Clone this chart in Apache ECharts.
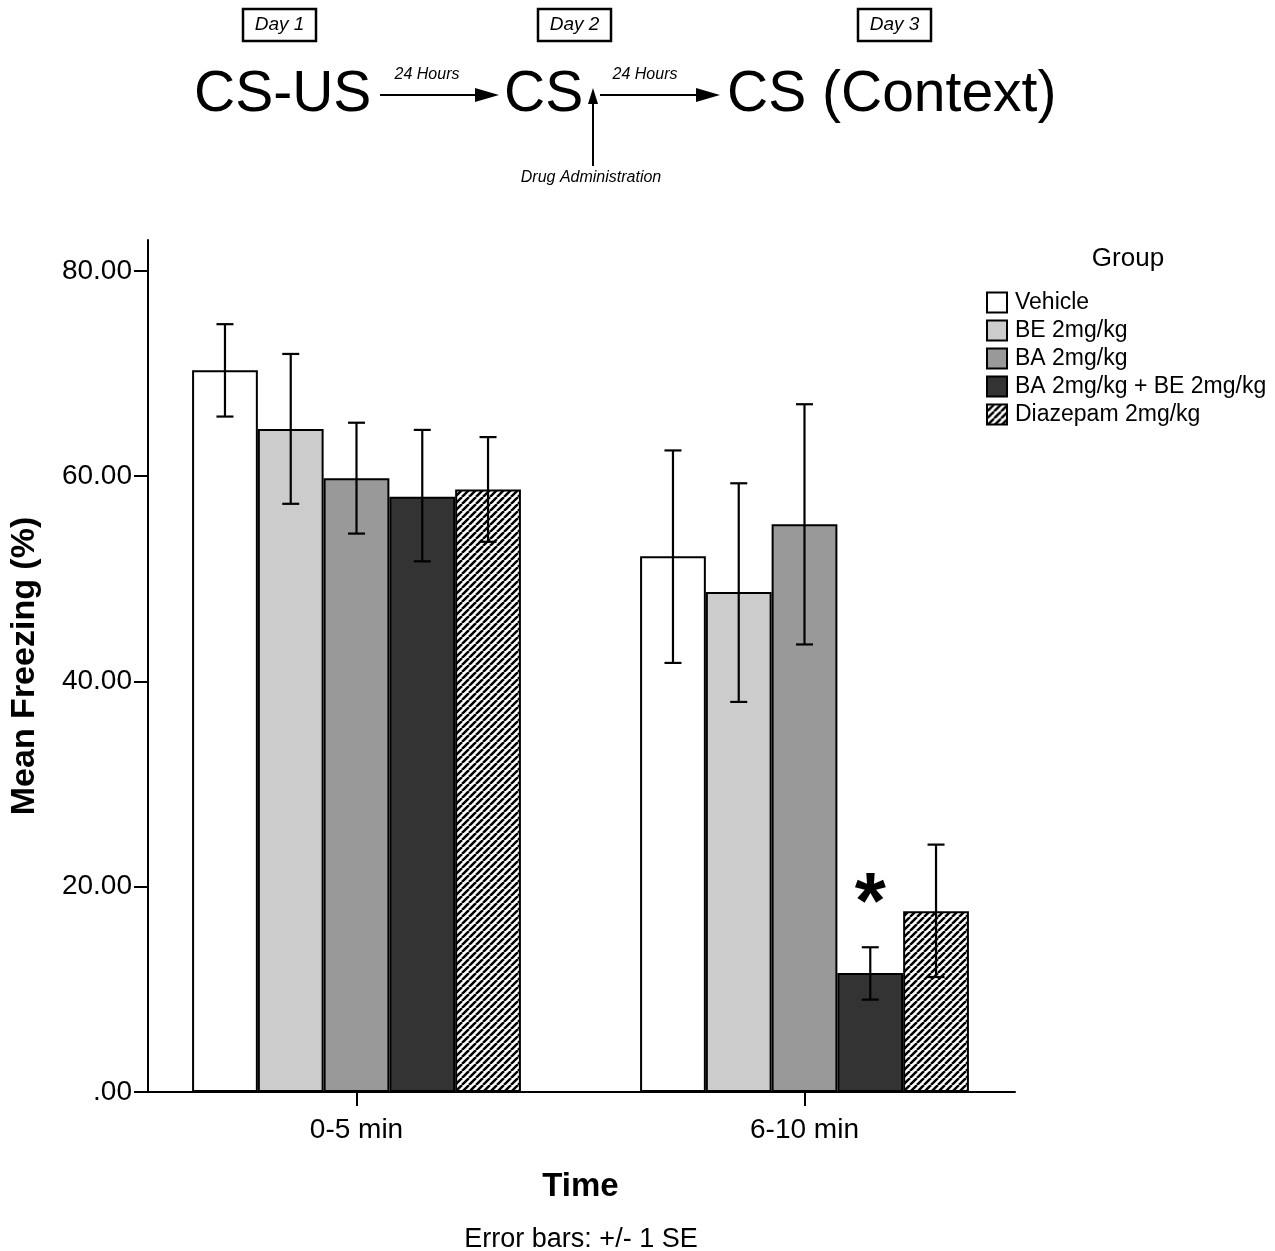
<!DOCTYPE html>
<html><head><meta charset="utf-8">
<script src="https://cdn.jsdelivr.net/npm/echarts@6/dist/echarts.min.js"></script>
<style>html,body{margin:0;padding:0;background:#fff}#c{width:1275px;height:1251px}</style>
</head><body><div id="c"></div>
<script>
// ---- data ----
const categories = ['0-5 min', '6-10 min'];
const groupNames = ['Vehicle', 'BE 2mg/kg', 'BA 2mg/kg', 'BA 2mg/kg + BE 2mg/kg', 'Diazepam 2mg/kg'];
const meanVehicle = [70.3, 52.2];
const meanBE      = [64.6, 48.7];
const meanBA      = [59.8, 55.3];
const meanBABE    = [58.0, 11.6];
const meanDiaz    = [58.7, 17.6];
// error bar [lower, upper] per category (+/- 1 SE)
const errVehicle = [[65.8, 74.8], [41.8, 62.5]];
const errBE      = [[57.3, 71.9], [38.0, 59.3]];
const errBA      = [[54.4, 65.2], [43.6, 67.0]];
const errBABE    = [[51.7, 64.5], [9.0, 14.1]];
const errDiaz    = [[53.6, 63.8], [11.2, 24.1]];
const yTicks = [0, 20, 40, 60, 80];

// ---- build ----
const FONT = "'Liberation Sans', Arial, sans-serif";
function hatch() {
  const s = 7, c = document.createElement('canvas');
  c.width = s; c.height = s;
  const g = c.getContext('2d');
  g.fillStyle = '#fff'; g.fillRect(0, 0, s, s);
  g.strokeStyle = '#000'; g.lineWidth = 2.5;
  g.beginPath();
  for (const k of [-s, 0, s]) { g.moveTo(k, s); g.lineTo(k + s, 0); }
  g.stroke();
  return c;
}
const means = [meanVehicle, meanBE, meanBA, meanBABE, meanDiaz];
const errs = [errVehicle, errBE, errBA, errBABE, errDiaz];
const fills = ['#ffffff', '#cccccc', '#999999', '#333333', { image: hatch(), repeat: 'repeat' }];
const GAP = 0.266;

const barSeries = groupNames.map((name, gi) => ({
  type: 'bar', name, xAxisIndex: 0, yAxisIndex: 0,
  barGap: '0%', barCategoryGap: (GAP * 100) + '%',
  itemStyle: { color: fills[gi], borderColor: '#000', borderWidth: 2 },
  data: means[gi].map((v, ci) => {
    if (gi === 3 && ci === 1) {
      return { value: v, label: { show: true, position: 'top', distance: 27, formatter: '*',
        fontSize: 80, fontWeight: 'bold', color: '#000', fontFamily: FONT } };
    }
    return v;
  })
}));

const errData = [];
errs.forEach((e, gi) => e.forEach((pair, ci) => errData.push([ci, pair[0], pair[1], gi])));

const errSeries = {
  type: 'custom', name: 'err', xAxisIndex: 0, yAxisIndex: 0, z: 5,
  data: errData,
  renderItem(params, api) {
    const ci = api.value(0), lo = api.value(1), hi = api.value(2), gi = api.value(3);
    const band = api.size([1, 0])[0];
    const w = band * (1 - GAP) / 5;
    const x = api.coord([ci, 0])[0] + (gi - 2) * w;
    const yl = api.coord([ci, lo])[1], yh = api.coord([ci, hi])[1];
    const cap = 8.5;
    const st = { stroke: '#000', lineWidth: 2.2 };
    return { type: 'group', children: [
      { type: 'line', shape: { x1: x, y1: yl, x2: x, y2: yh }, style: st },
      { type: 'line', shape: { x1: x - cap, y1: yl, x2: x + cap, y2: yl }, style: st },
      { type: 'line', shape: { x1: x - cap, y1: yh, x2: x + cap, y2: yh }, style: st }
    ]};
  }
};

function arrowH(x1, x2, y) {
  return [
    { type: 'line', shape: { x1, y1: y, x2: x2 - 18, y2: y }, style: { stroke: '#000', lineWidth: 2 } },
    { type: 'polygon', shape: { points: [[x2 - 24, y - 7], [x2, y], [x2 - 24, y + 7]] }, style: { fill: '#000' } }
  ];
}
function dayBox(x, label) {
  return [
    { type: 'rect', shape: { x, y: 9, width: 73, height: 32 }, style: { fill: '#fff', stroke: '#000', lineWidth: 2.5 } },
    { type: 'text', x: x + 36.5, y: 25, style: { text: label, font: 'italic 19px ' + FONT, fill: '#000', align: 'center', verticalAlign: 'middle' } }
  ];
}
const bigFont = '57px ' + FONT;
const smallIt = 'italic 16px ' + FONT;
const graphics = [].concat(
  dayBox(243, 'Day 1'), dayBox(538, 'Day 2'), dayBox(858, 'Day 3'),
  [
    { type: 'text', x: 194, y: 95, style: { text: 'CS-US', font: bigFont, fill: '#000', align: 'left', verticalAlign: 'middle' } },
    { type: 'text', x: 504, y: 95, style: { text: 'CS', font: bigFont, fill: '#000', align: 'left', verticalAlign: 'middle' } },
    { type: 'text', x: 727, y: 95, style: { text: 'CS (Context)', font: bigFont, fill: '#000', align: 'left', verticalAlign: 'middle' } },
    { type: 'text', x: 427, y: 75, style: { text: '24 Hours', font: smallIt, fill: '#000', align: 'center', verticalAlign: 'middle' } },
    { type: 'text', x: 645, y: 75, style: { text: '24 Hours', font: smallIt, fill: '#000', align: 'center', verticalAlign: 'middle' } },
    { type: 'text', x: 591, y: 178, style: { text: 'Drug Administration', font: smallIt, fill: '#000', align: 'center', verticalAlign: 'middle' } },
    { type: 'line', shape: { x1: 593, y1: 166, x2: 593, y2: 100 }, style: { stroke: '#000', lineWidth: 2 } },
    { type: 'polygon', shape: { points: [[588, 104], [593, 88], [598, 104]] }, style: { fill: '#000' } },
    { type: 'text', x: 1128, y: 259, style: { text: 'Group', font: '26px ' + FONT, fill: '#000', align: 'center', verticalAlign: 'middle' } },
    { type: 'text', x: 581, y: 1240, style: { text: 'Error bars: +/- 1 SE', font: '27px ' + FONT, fill: '#000', align: 'center', verticalAlign: 'middle' } }
  ],
  arrowH(380, 499, 95), arrowH(600, 720, 95)
);

const axisBlack = { lineStyle: { color: '#000', width: 2 } };
const option = {
  animation: false,
  backgroundColor: '#fff',
  textStyle: { fontFamily: FONT, color: '#000' },
  legend: {
    orient: 'vertical', left: 981, top: 286, itemWidth: 20, itemHeight: 20, itemGap: 5,
    icon: 'rect', data: groupNames, selectedMode: false,
    textStyle: { fontSize: 23, color: '#000', fontFamily: FONT, padding: [0, 0, 0, 3] }
  },
  grid: [
    { left: 132.5, right: 246.5, top: 240, bottom: 159 },
    { left: 148, right: 260, top: 240, bottom: 159 }
  ],
  xAxis: [
    { type: 'category', gridIndex: 0, data: categories,
      axisLine: { show: false },
      axisTick: { show: true, alignWithLabel: true, length: 14, lineStyle: { color: '#000', width: 2 } },
      axisLabel: { fontSize: 28, color: '#000', margin: 24, fontFamily: FONT },
      name: 'Time', nameLocation: 'middle', nameGap: 78,
      nameTextStyle: { fontSize: 33, fontWeight: 'bold', color: '#000', fontFamily: FONT } },
    { type: 'value', gridIndex: 1, min: 0, max: 1, axisLine: { show: true, onZero: false, ...axisBlack },
      axisTick: { show: false }, axisLabel: { show: false }, splitLine: { show: false } }
  ],
  yAxis: [
    { type: 'value', gridIndex: 0, min: 0, max: 83, show: false, splitLine: { show: false } },
    { type: 'value', gridIndex: 1, min: 0, max: 83,
      axisLine: { show: true, ...axisBlack },
      axisTick: { show: true, length: 14, customValues: yTicks, lineStyle: { color: '#000', width: 2 } },
      axisLabel: { customValues: yTicks, fontSize: 28, color: '#000', margin: 16, fontFamily: FONT,
        formatter: v => v === 0 ? '.00' : v.toFixed(2) },
      splitLine: { show: false },
      name: 'Mean Freezing (%)', nameLocation: 'middle', nameGap: 106,
      nameTextStyle: { fontSize: 34, fontWeight: 'bold', color: '#000', fontFamily: FONT } }
  ],
  graphic: graphics,
  series: barSeries.concat([errSeries])
};
echarts.init(document.getElementById('c'), null, { renderer: 'canvas' }).setOption(option);
</script>
</body></html>
